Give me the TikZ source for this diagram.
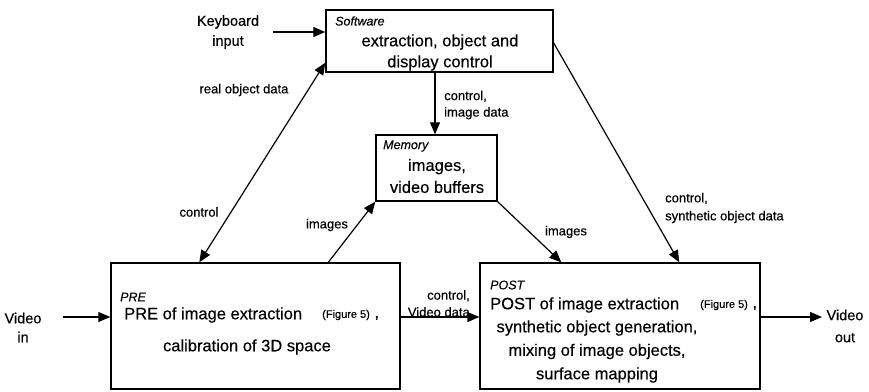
\documentclass[tikz,border=0pt]{standalone}
\usepackage{fontspec}
\setmainfont{Liberation Sans}[FakeBold=0.35]
\usetikzlibrary{arrows.meta,calc}
\begin{document}
\begin{tikzpicture}[x=1pt,y=-1pt,
  box/.style={draw,line width=1.4pt,inner sep=0pt},
  arr/.style={-{Triangle[length=12pt,width=10pt]},line width=1.2pt},
  darr/.style={{Triangle[length=12pt,width=10pt]}-{Triangle[length=12pt,width=10pt]},line width=1.2pt},
  big/.style={font=\fontsize{16.5}{21}\selectfont,inner sep=0pt},
  side/.style={font=\fontsize{14.5}{20}\selectfont,inner sep=0pt,align=center},
  lbl/.style={font=\fontsize{13}{16.5}\selectfont,inner sep=0pt},
  tag/.style={font=\fontsize{12.5}{14}\selectfont\itshape,inner sep=0pt,anchor=west},
  fig/.style={font=\fontsize{16.5}{20}\selectfont,inner sep=0pt,anchor=west},
]
\useasboundingbox (0,0) rectangle (869,391);
% boxes
\node[box,minimum width=227pt,minimum height=62pt] (sw) at (439.5,41) {};
\node[box,minimum width=121pt,minimum height=66pt] (mem) at (436.5,168) {};
\node[box,minimum width=289pt,minimum height=126pt] (pre) at (255.5,326) {};
\node[box,minimum width=280pt,minimum height=126pt] (post) at (620,326) {};
% box texts
\node[tag] (swt) at (335,21) {Software};
\node[big,align=center] (swtx) at (440,52.5) {extraction, object and\\display control};
\node[tag] (memt) at (383,146) {Memory};
\node[big,align=center,font=\fontsize{16.5}{22}\selectfont] (memtx) at (437,176) {images,\\video buffers};
\node[tag] (pret) at (120,297) {PRE};
\node[big,anchor=west] (pre1) at (124,315) {PRE of image extraction};
\node[fig] (pref) at (322,315) {{\fontsize{11}{14}\selectfont(Figure 5)} ,};
\node[big] (pre2) at (247,347) {calibration of 3D space};
\node[tag] (postt) at (490,285) {POST};
\node[big,anchor=west] (post1) at (490,305) {POST of image extraction};
\node[fig] (postf) at (700,305) {{\fontsize{11}{14}\selectfont(Figure 5)} ,};
\node[big,align=center,font=\fontsize{16.5}{23.5}\selectfont] (post2) at (597,351.5) {synthetic object generation,\\mixing of image objects,\\surface mapping};
% side texts
\node[side] (kb) at (228,32) {Keyboard\\input};
\node[side,font=\fontsize{14.5}{19}\selectfont] (vin) at (23,327.5) {Video\\in};
\node[side,font=\fontsize{14.5}{22}\selectfont] (vout) at (845,326) {Video\\out};
% labels
\node[lbl] (l1) at (244,90) {real object data};
\node[lbl,align=left,anchor=west] (l2) at (444,105) {control,\\ image data};
\node[lbl] (l3) at (199,212) {control};
\node[lbl] (l4) at (327,225) {images};
\node[lbl] (l5) at (566,232) {images};
\node[lbl,align=left,anchor=west,font=\fontsize{13}{18}\selectfont] (l6) at (665,208) {control,\\synthetic object data};
\node[lbl,align=right,anchor=east,font=\fontsize{13}{17}\selectfont] (l7) at (470,303.5) {control,\\Video data};
% connectors
\coordinate (vi) at (63,317);
\coordinate (vo) at (822,317);
\draw[arr] ([xshift=14pt]kb.east) -- (kb.east -| sw.west);
\draw[arr] ([xshift=-4.5pt]sw.south) -- ([xshift=-1.5pt]mem.north);
\draw[darr] ([xshift=89pt]pre.north west) -- ([yshift=10pt]sw.south west);
\draw[arr] ([xshift=218pt]pre.north west) -- (mem.south west);
\draw[arr] (mem.south east) -- ([xshift=82pt]post.north west);
\draw[arr] ([yshift=-2pt]sw.east) -- ([xshift=200pt]post.north west);
\draw[arr] (vi) -- (vi -| pre.west);
\draw[arr] ([yshift=9pt]pre.east) -- ([yshift=9pt]post.west);
\draw[arr] (vo -| post.east) -- (vo);
\end{tikzpicture}
\end{document}
